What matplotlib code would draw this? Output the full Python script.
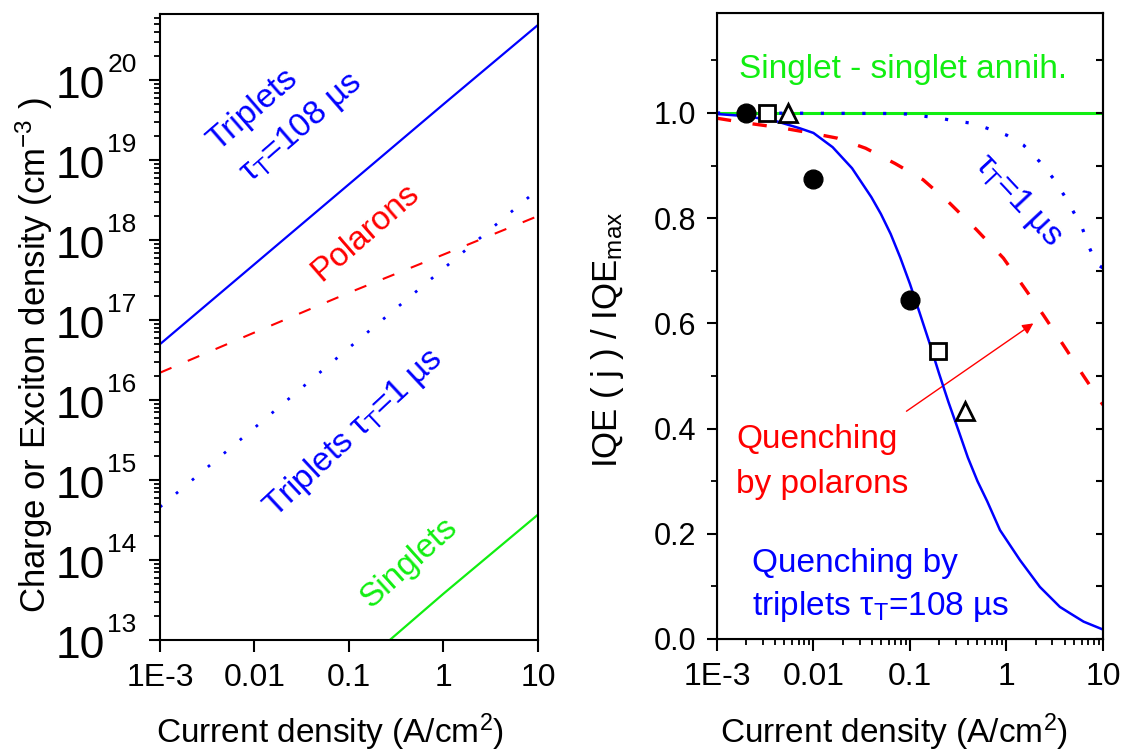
import matplotlib
matplotlib.use("Agg")
import matplotlib.pyplot as plt
from matplotlib.ticker import FixedLocator, LogLocator, MultipleLocator, NullFormatter

plt.rcParams["font.family"] = ["Liberation Sans", "DejaVu Sans"]
plt.rcParams["mathtext.fontset"] = "custom"
plt.rcParams["mathtext.rm"] = "Liberation Sans"
plt.rcParams["mathtext.it"] = "Liberation Sans:italic"
plt.rcParams["mathtext.bf"] = "Liberation Sans:bold"

BLUE = "#0000ff"
RED = "#ff0000"
GREEN = "#11ee11"

# ---- left panel: carrier / exciton densities (cm^-3) vs current density
j_left = [1e-3, 1e-2, 1e-1, 1.0, 10.0]
n_triplet_108 = [5.0e16, 5.0e17, 5.0e18, 5.0e19, 4.9e20]
n_polaron = [2.2e16, 7.0e16, 2.2e17, 6.6e17, 2.0e18]
n_triplet_1 = [4.6e14, 4.5e15, 4.5e16, 4.4e17, 4.3e18]
j_singlet = [0.27, 1.0, 10.0]
n_singlet = [1.0e13, 3.8e13, 3.7e14]

y_decades = [13, 14, 15, 16, 17, 18, 19, 20]
x_ticks = [1e-3, 1e-2, 1e-1, 1, 10]
x_tick_labels = ["1E-3", "0.01", "0.1", "1", "10"]

# ---- right panel: normalised IQE vs current density
j_trip108 = [0.001, 0.002, 0.004, 0.0072, 0.010, 0.0158, 0.0251, 0.0398,
             0.050, 0.0631, 0.0794, 0.100, 0.126, 0.158, 0.200, 0.251,
             0.316, 0.398, 0.501, 0.631, 0.857, 1.38, 2.22, 3.58, 4.55,
             6.3, 10.0]
iqe_trip108 = [0.998, 0.994, 0.985, 0.971, 0.962, 0.935, 0.895, 0.840,
               0.808, 0.770, 0.725, 0.675, 0.620, 0.565, 0.505, 0.450,
               0.398, 0.345, 0.300, 0.262, 0.207, 0.150, 0.099, 0.061, 0.049,
               0.033, 0.018]

j_polaron = [0.001, 0.00126, 0.00219, 0.00457, 0.00933, 0.0178, 0.0347, 0.07,
             0.137, 0.26, 0.49, 0.93, 1.50, 2.41, 3.88, 6.3, 10.0]
iqe_polaron = [0.990, 0.987, 0.980, 0.972, 0.962, 0.952, 0.933, 0.904,
               0.873, 0.828, 0.778, 0.724, 0.670, 0.616, 0.559, 0.500, 0.445]

j_trip1 = [0.001, 0.063, 0.0925, 0.137, 0.204, 0.292, 0.454, 0.676, 1.0,
           1.50, 2.22, 3.05, 4.04, 6.03, 7.16, 8.51, 10.0]
iqe_trip1 = [1.0, 0.999, 0.998, 0.994, 0.990, 0.985, 0.980, 0.969, 0.958,
             0.939, 0.907, 0.876, 0.841, 0.784, 0.746, 0.714, 0.705]

j_ssa = [0.001, 10.0]
iqe_ssa = [1.0, 1.0]

# measured points
j_circle = [0.002, 0.01, 0.1]
iqe_circle = [1.0, 0.875, 0.645]
j_square = [0.0033, 0.195]
iqe_square = [1.0, 0.547]
j_triangle = [0.0054, 0.37]
iqe_triangle = [1.0, 0.433]

ARROW_FROM = (0.092, 0.433)
ARROW_TO = (1.9, 0.600)

fig = plt.figure(figsize=(11.25, 7.53), dpi=100)
axL = fig.add_axes([0.1422, 0.150, 0.336, 0.8313])
axR = fig.add_axes([0.6373, 0.1514, 0.3431, 0.8313])

for ax in (axL, axR):
    for s in ax.spines.values():
        s.set_linewidth(1.5)
    ax.set_xscale("log")
    ax.set_xlim(1e-3, 10)
    ax.xaxis.set_major_locator(FixedLocator(x_ticks))
    ax.set_xticklabels(x_tick_labels)
    ax.xaxis.set_minor_locator(LogLocator(base=10, subs=range(2, 10)))
    ax.xaxis.set_minor_formatter(NullFormatter())
    ax.tick_params(axis="x", which="major", direction="out", length=8.5,
                   width=1.5, labelsize=23, pad=8, top=False)
    ax.tick_params(axis="x", which="minor", direction="out", length=4.5,
                   width=1.3, top=False)

# ---- left panel
axL.set_yscale("log")
axL.plot(j_left, n_triplet_108, color=BLUE, lw=1.6)
axL.plot(j_left, n_polaron, color=RED, lw=1.5, ls=(0, (6, 8.5)))
axL.plot(j_left, n_triplet_1, color=BLUE, lw=2.0, ls=(0, (1, 6.5)))
axL.plot(j_singlet, n_singlet, color=GREEN, lw=1.6)
axL.set_ylim(1e13, 6.7e20)
axL.yaxis.set_major_locator(FixedLocator([10.0 ** k for k in y_decades]))
axL.yaxis.set_major_formatter(NullFormatter())
axL.yaxis.set_minor_locator(LogLocator(base=10, subs=range(2, 10), numticks=20))
axL.yaxis.set_minor_formatter(NullFormatter())
axL.tick_params(axis="y", which="major", direction="out", length=8,
                width=1.5, right=False)
axL.tick_params(axis="y", which="minor", direction="out", length=4.3,
                width=1.3, right=False)
for k in y_decades:
    axL.annotate("10", xy=(0, 10.0 ** k), xycoords=("axes fraction", "data"),
                 xytext=(-39.5, -13), textcoords="offset points",
                 ha="right", va="baseline", fontsize=32)
    axL.annotate(str(k), xy=(0, 10.0 ** k), xycoords=("axes fraction", "data"),
                 xytext=(-38, 5.8), textcoords="offset points",
                 ha="left", va="baseline", fontsize=19)

txt = dict(transform=axL.transAxes, ha="center", va="center",
           rotation_mode="anchor", fontsize=24)
axL.text(0.246, 0.847, "Triplets", rotation=41, color=BLUE, **txt)
axL.text(0.373, 0.818, r"τ$_\mathregular{T}$=108 µs", rotation=41,
         color=BLUE, **txt)
axL.text(0.542, 0.652, "Polarons", rotation=41, color=RED, **txt)
axL.text(0.513, 0.331, r"Triplets τ$_\mathregular{T}$=1 µs", rotation=43,
         color=BLUE, **txt)
axL.text(0.660, 0.123, "Singlets", rotation=42, color=GREEN, **txt)

# ---- right panel
axR.plot(j_ssa, iqe_ssa, color=GREEN, lw=2.2, zorder=2)
axR.plot(j_trip1, iqe_trip1, color=BLUE, lw=2.3, ls=(0, (1, 5.5)), zorder=3)
axR.plot(j_polaron, iqe_polaron, color=RED, lw=2.4, ls=(0, (4.3, 6.5)),
         zorder=3)
axR.plot(j_trip108, iqe_trip108, color=BLUE, lw=1.8, zorder=4)
axR.plot(j_circle, iqe_circle, ls="none", marker="o", ms=13.5, color="black",
         zorder=5)
axR.plot(j_square, iqe_square, ls="none", marker="s", ms=11.5, mfc="white",
         mec="black", mew=2, zorder=5)
axR.plot(j_triangle, iqe_triangle, ls="none", marker="^", ms=13, mfc="white",
         mec="black", mew=2, zorder=5)
axR.annotate("", xy=ARROW_TO, xytext=ARROW_FROM,
             arrowprops=dict(arrowstyle="-|>", color=RED, lw=1.0,
                             mutation_scale=16, shrinkA=0, shrinkB=0))

axR.set_ylim(0, 1.19)
axR.yaxis.set_major_locator(MultipleLocator(0.2))
axR.yaxis.set_minor_locator(MultipleLocator(0.1))
axR.yaxis.set_major_formatter(plt.FuncFormatter(lambda v, p: f"{v:.1f}"))
axR.tick_params(axis="y", which="major", direction="out", length=7,
                width=1.5, labelsize=22, pad=8, right=False)
axR.tick_params(axis="y", which="minor", direction="out", length=4,
                width=1.3, right=False)
axR2 = axR.twinx()
axR2.set_ylim(axR.get_ylim())
axR2.yaxis.set_major_locator(MultipleLocator(0.1))
axR2.yaxis.set_minor_locator(plt.NullLocator())
axR2.tick_params(axis="y", direction="in", length=5, width=1.5,
                 labelright=False)
axR2.spines["right"].set_linewidth(1.5)

rtxt = dict(transform=axR.transAxes, ha="left", va="baseline", fontsize=24)
axR.text(0.057, 0.896, "Singlet - singlet annih.", color=GREEN, **rtxt)
axR.text(0.049, 0.305, "Quenching", color=RED, **rtxt)
axR.text(0.049, 0.233, "by polarons", color=RED, **rtxt)
axR.text(0.0907, 0.107, "Quenching by", color=BLUE, **rtxt)
axR.text(0.0907, 0.038, r"triplets τ$_\mathregular{T}$=108 µs", color=BLUE,
         **rtxt)
axR.text(0.780, 0.701, r"τ$_\mathregular{T}$=1 µs", transform=axR.transAxes,
         rotation=-47, rotation_mode="anchor", ha="center", va="center",
         color=BLUE, fontsize=24)

fig.text(34 / 1125, 1 - 355 / 753, r"Charge or Exciton density (cm$^{-3}$ )",
         rotation=90, ha="center", va="center", fontsize=25)
fig.text(608 / 1125, 1 - 340 / 753, r"IQE ( j ) / IQE$_{\mathregular{max}}$",
         rotation=90, ha="center", va="center", fontsize=25)
fig.text(330 / 1125, 1 - 732 / 753, r"Current density (A/cm$^{2}$)",
         ha="center", va="center", fontsize=24)
fig.text(894 / 1125, 1 - 732 / 753, r"Current density (A/cm$^{2}$)",
         ha="center", va="center", fontsize=24)

fig.savefig("out.png", dpi=100, facecolor="white")
